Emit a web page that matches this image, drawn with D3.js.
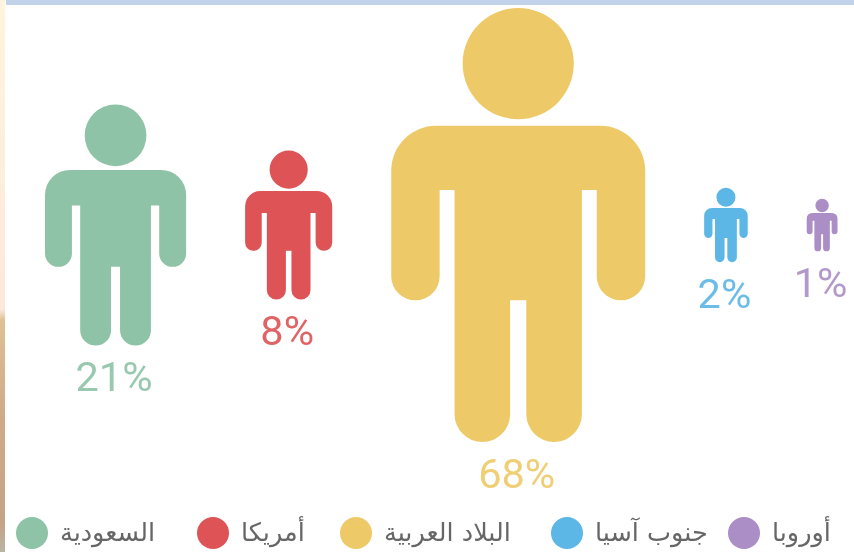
<!DOCTYPE html>
<html><head><meta charset="utf-8">
<script src="https://cdn.jsdelivr.net/npm/d3@7"></script>
<style>html,body{margin:0;padding:0;background:#fff}svg{display:block}</style></head>
<body><svg id="c" width="854" height="552"></svg>
<script>
const categories = ["السعودية","أمريكا","البلاد العربية","جنوب آسيا","أوروبا"];
const values = [21,8,68,2,1];
const colors = ["#8fc3a8","#dd5356","#eec967","#5cb6e6","#ab8ec6"];

const svg = d3.select("#c");
const defs = svg.append("defs");
const g = defs.append("linearGradient").attr("id","side").attr("x1",0).attr("y1",0).attr("x2",0).attr("y2",1);
[[0,"#fff4dc"],[.3,"#fdeedd"],[.56,"#fde8dc"],[.58,"#dfc093"],[.75,"#cfab88"],[.95,"#c4a488"],[1,"#b9b4a6"]]
  .forEach(s=>g.append("stop").attr("offset",s[0]).attr("stop-color",s[1]));
defs.append("filter").attr("id","soft").append("feGaussianBlur").attr("stdDeviation",0.45);
svg.append("rect").attr("x",0).attr("y",0).attr("width",5).attr("height",552).attr("fill","url(#side)");
svg.append("rect").attr("x",6).attr("y",0).attr("width",848).attr("height",5).attr("fill","#c1d3ea");

const height = d3.scaleSqrt().domain([0,68]).range([0,434]);
const unit = 1/242;
function person(h){
  const u = h*unit, p = d3.path();
  const hw=70.8*u, top=65.7*u, cr=25*u, armW=27*u, armB=163*u, armT=101.5*u, tor=35.5*u, gap=4.5*u, legB=h, legR=15.5*u;
  p.moveTo(-hw+cr,top); p.lineTo(hw-cr,top);
  p.arcTo(hw,top,hw,top+cr,cr);
  p.lineTo(hw,armB-armW/2);
  p.arc(hw-armW/2,armB-armW/2,armW/2,0,Math.PI);
  p.lineTo(hw-armW,armT); p.lineTo(tor,armT);
  p.lineTo(tor,legB-legR);
  p.arc(tor-legR,legB-legR,legR,0,Math.PI);
  p.lineTo(gap,armB); p.lineTo(-gap,armB);
  p.lineTo(-gap,legB-legR);
  p.arc(-gap-legR,legB-legR,legR,0,Math.PI);
  p.lineTo(-tor,armT); p.lineTo(-hw+armW,armT);
  p.lineTo(-hw+armW,armB-armW/2);
  p.arc(-hw+armW/2,armB-armW/2,armW/2,0,Math.PI);
  p.lineTo(-hw,top+cr);
  p.arcTo(-hw,top,-hw+cr,top,cr);
  p.closePath();
  p.moveTo(31*u,31*u);
  p.arc(0,31*u,31*u,0,2*Math.PI);
  return p.toString();
}
const ratio = 141.6/242, gapX = 59, midY = 225;
let cursor = 45;
const rows = values.map((v,i)=>{
  const h = height(v), w = h*ratio, cx = cursor+w/2;
  cursor += w+gapX;
  return {v,h,cx,color:colors[i]};
});
const gs = svg.selectAll("g.p").data(rows).join("g").attr("class","p")
  .attr("transform",d=>`translate(${d.cx},${midY-d.h/2})`);
gs.append("path").attr("d",d=>person(d.h)).attr("fill",d=>d.color);
gs.append("text").attr("x",-1.5).attr("y",d=>d.h+45.5).attr("text-anchor","middle")
  .attr("font-family","Roboto").attr("font-weight",400).attr("font-size",41.5)
  .attr("filter","url(#soft)")
  .attr("fill",d=>d.color).attr("opacity",.9).text(d=>d.v+"%");

const legendX = [32,213,356,567,744];
const lg = svg.selectAll("g.l").data(categories).join("g").attr("class","l")
  .attr("transform",(d,i)=>`translate(${legendX[i]},533)`);
lg.append("circle").attr("r",16).attr("fill",(d,i)=>colors[i]);
lg.append("text").attr("x",28).attr("y",8).attr("direction","ltr").attr("text-anchor","start")
  .attr("font-family","'DejaVu Sans','Noto Sans',sans-serif").attr("font-size",25.5).attr("fill","#666")
  .attr("filter","url(#soft)").text(d=>d);
</script></body></html>
